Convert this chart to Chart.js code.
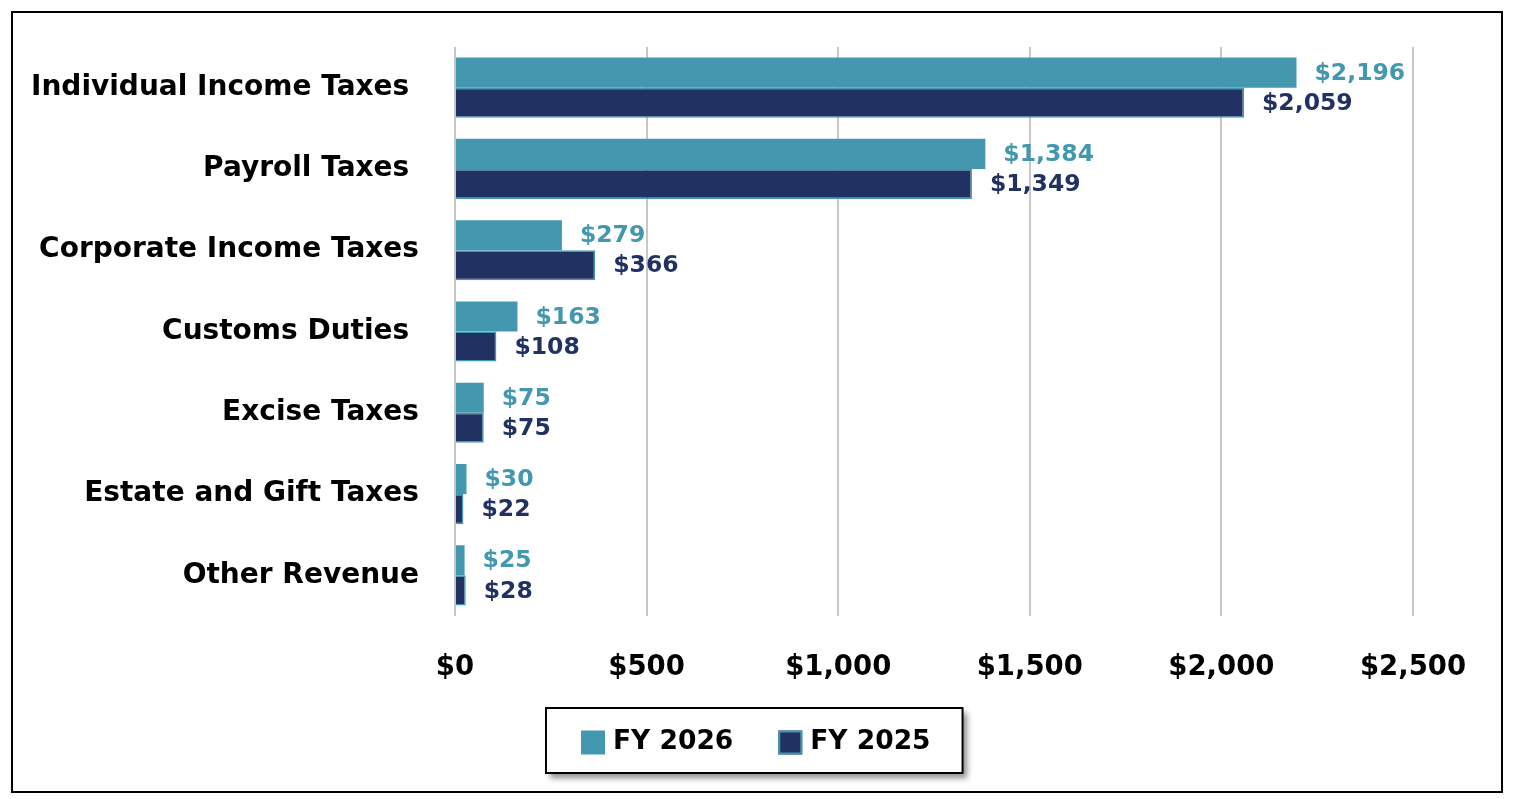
<!DOCTYPE html>
<html>
<head>
<meta charset="utf-8">
<script src="https://cdn.jsdelivr.net/npm/chart.js@4.4.1/dist/chart.umd.min.js"></script>
<style>
  html, body { margin: 0; padding: 0; background: #fff; }
  #wrap { width: 1515px; height: 799px; position: relative; }
</style>
</head>
<body>
<div id="wrap"><canvas id="revenue" width="1515" height="799"></canvas></div>
<script>
// revenue by source, billions of dollars
const categories = [
  "Individual Income Taxes ",
  "Payroll Taxes ",
  "Corporate Income Taxes",
  "Customs Duties ",
  "Excise Taxes",
  "Estate and Gift Taxes",
  "Other Revenue",
];
const fy2026 = [2196, 1384, 279, 163, 75, 30, 25];
const fy2025 = [2059, 1349, 366, 108, 75, 22, 28];
const xTicks = [0, 500, 1000, 1500, 2000, 2500];

const teal = "#4398AF";
const navy = "#213161";
const fontFamily = "'DejaVu Sans', sans-serif";

const money = (v) => "$" + v.toLocaleString("en-US");

// outer frame
const framePlugin = {
  id: "frame",
  beforeDraw(chart) {
    let ctx = chart.ctx;
    ctx.save();
    ctx.fillStyle = "#fff";
    ctx.fillRect(0, 0, chart.width, chart.height);
    ctx.strokeStyle = "#000";
    ctx.lineWidth = 2;
    ctx.strokeRect(12, 12, 1490, 780);
    ctx.restore();
  },
};

// value labels right of each bar
const valueLabels = {
  id: "valueLabels",
  afterDatasetsDraw(chart) {
    let ctx = chart.ctx;
    ctx.save();
    ctx.font = "bold 23.5px " + fontFamily;
    ctx.textBaseline = "middle";
    ctx.textAlign = "left";
    chart.data.datasets.forEach((ds, i) => {
      let meta = chart.getDatasetMeta(i);
      ctx.fillStyle = ds.labelColor;
      meta.data.forEach((bar, j) => {
        ctx.fillText(money(ds.data[j]), bar.x + 18, bar.y + 1);
      });
    });
    ctx.restore();
  },
};

// boxed legend with shadow, centred under the chart
const boxedLegend = {
  id: "boxedLegend",
  afterDraw(chart) {
    let ctx = chart.ctx;
    let sq = 24, gap = 8, spacing = 45, padL = 35, padR = 32;
    ctx.save();
    ctx.font = "bold 26.5px " + fontFamily;
    let items = chart.data.datasets.map((ds) => ({
      ds: ds,
      w: sq + gap + ctx.measureText(ds.label).width,
    }));
    let inner = items.reduce((s, it) => s + it.w, 0) + spacing * (items.length - 1);
    let w = inner + padL + padR;
    let h = 65;
    let left = Math.round(chart.width / 2 - w / 2) - 3;
    let top = 708;

    ctx.shadowColor = "rgba(0,0,0,0.45)";
    ctx.shadowBlur = 6;
    ctx.shadowOffsetX = 4;
    ctx.shadowOffsetY = 5;
    ctx.fillStyle = "#fff";
    ctx.fillRect(left, top, w, h);
    ctx.shadowColor = "transparent";
    ctx.strokeStyle = "#000";
    ctx.lineWidth = 2;
    ctx.strokeRect(left, top, w, h);

    let x = left + padL;
    let cy = top + h / 2 + 2;
    items.forEach((it) => {
      ctx.fillStyle = it.ds.backgroundColor;
      ctx.fillRect(x, cy - sq / 2, sq, sq);
      if (it.ds.borderWidth) {
        ctx.strokeStyle = it.ds.borderColor;
        ctx.lineWidth = 2;
        ctx.strokeRect(x + 1, cy - sq / 2 + 1, sq - 2, sq - 2);
      }
      ctx.fillStyle = "#000";
      ctx.textBaseline = "middle";
      ctx.fillText(it.ds.label, x + sq + gap, cy);
      x += it.w + spacing;
    });
    ctx.restore();
  },
};

new Chart(document.getElementById("revenue"), {
  type: "bar",
  data: {
    labels: categories,
    datasets: [
      {
        label: "FY 2026",
        data: fy2026,
        backgroundColor: teal,
        labelColor: teal,
        borderWidth: 0,
        categoryPercentage: 0.74,
        barPercentage: 1,
      },
      {
        label: "FY 2025",
        data: fy2025,
        backgroundColor: navy,
        borderColor: teal,
        borderWidth: 1.5,
        labelColor: navy,
        categoryPercentage: 0.74,
        barPercentage: 1,
      },
    ],
  },
  options: {
    indexAxis: "y",
    responsive: false,
    animation: false,
    devicePixelRatio: 1,
    layout: {
      padding: { left: 0, right: 102, top: 47, bottom: 0 },
    },
    plugins: {
      legend: { display: false },
      tooltip: { enabled: false },
    },
    scales: {
      x: {
        min: 0,
        max: 2500,
        afterBuildTicks: (scale) => {
          scale.ticks = xTicks.map((v) => ({ value: v }));
        },
        afterFit: (scale) => {
          scale.height = 183;
        },
        grid: { color: "#C8C8C8", lineWidth: 2, drawTicks: false },
        border: { display: false },
        ticks: {
          padding: 35,
          color: "#000",
          font: { family: fontFamily, size: 27.5, weight: "bold" },
          callback: (v) => money(v),
        },
      },
      y: {
        afterFit: (scale) => {
          scale.width = 455;
        },
        // tick length (not drawn) keeps the labels clear of the bars
        grid: { display: false, drawTicks: true, tickLength: 30 },
        border: { display: false },
        ticks: {
          padding: 6,
          color: "#000",
          font: { family: fontFamily, size: 28, weight: "bold" },
        },
      },
    },
  },
  plugins: [framePlugin, valueLabels, boxedLegend],
});
</script>
</body>
</html>
